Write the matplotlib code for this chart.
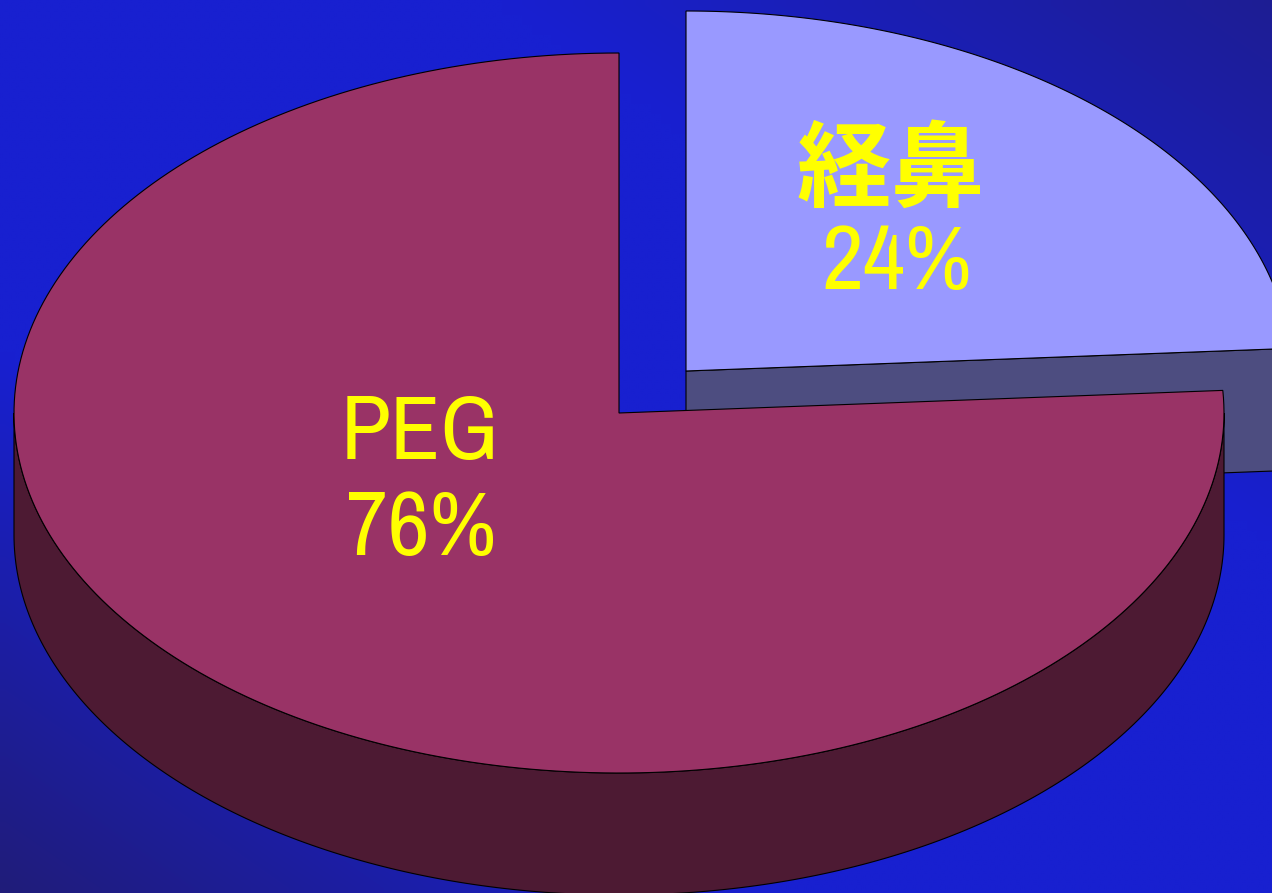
import numpy as np
import matplotlib
matplotlib.use("Agg")
import matplotlib.pyplot as plt
from matplotlib import font_manager as fm
from matplotlib.patches import Polygon

labels = ["経鼻", "PEG"]
shares = [24, 76]
top_colors = ["#9999FF", "#993366"]
side_colors = ["#4D4D80", "#4D1A33"]
centers = [(686, 371), (619, 413)]

W, H = 1272, 893
RX, RY, DEPTH = 605, 360, 122

fig = plt.figure(figsize=(W / 100, H / 100), dpi=100)
ax = fig.add_axes([0, 0, 1, 1])
ax.set_xlim(0, W)
ax.set_ylim(H, 0)
ax.axis("off")

# background: saturated blue centre, darker towards top-right and bottom-left corners
yy, xx = np.mgrid[0:1:90j, 0:1:128j]
t = xx - yy
dark = np.clip(np.abs(t) - 0.4, 0, 1) / 0.6
dark = np.where(t > 0, dark * 0.7, dark)
c0 = np.array([24, 32, 208]) / 255
c1 = np.array([32, 28, 122]) / 255
img = c0[None, None, :] * (1 - dark[..., None]) + c1[None, None, :] * dark[..., None]
ax.imshow(img, extent=[0, W, H, 0], aspect="auto", zorder=0, interpolation="bilinear")


def arc(cx, cy, a0, a1, n=240):
    a = np.radians(np.linspace(a0, a1, n))
    return np.column_stack([cx + RX * np.cos(a), cy - RY * np.sin(a)])


start0 = 90
end0 = start0 - 360 * shares[0] / 100
end1 = end0 - 360 * shares[1] / 100
kw = dict(edgecolor="black", linewidth=0.8)

cx, cy = centers[0]
edge = arc(cx, cy, end0, end0, 1)[0]
ax.add_patch(Polygon([(cx, cy), edge, edge + [0, DEPTH], (cx, cy + DEPTH)],
                     facecolor=side_colors[0], zorder=2, **kw))
p = arc(cx, cy, start0, end0)
ax.add_patch(Polygon(np.vstack([[(cx, cy)], p]), facecolor=top_colors[0], zorder=3, **kw))

cx, cy = centers[1]
front = arc(cx, cy, 180, 360)
ax.add_patch(Polygon(np.vstack([front, (front + [0, DEPTH])[::-1]]),
                     facecolor=side_colors[1], zorder=4, **kw))
p = arc(cx, cy, end0, end1)
ax.add_patch(Polygon(np.vstack([[(cx, cy)], p]), facecolor=top_colors[1], zorder=5, **kw))

names = sorted(fm.get_font_names())
narrow = [n for n in names if "narrow" in n.lower() or "condensed" in n.lower()]
latin = narrow[0] if narrow else "Liberation Mono"
size = 66 if narrow else 60
yellow = "#FFFF00"
ax.text(891, 172, labels[0], family=["Noto Sans CJK JP"], fontsize=68, fontweight="bold",
        color=yellow, ha="center", va="center", zorder=6)
ax.text(897, 264, f"{shares[0]}%", family=latin, fontsize=size, color=yellow,
        ha="center", va="center", zorder=6)
ax.text(420, 434, labels[1], family=latin, fontsize=size, color=yellow,
        ha="center", va="center", zorder=6)
ax.text(421, 530, f"{shares[1]}%", family=latin, fontsize=size, color=yellow,
        ha="center", va="center", zorder=6)

fig.savefig("out.png", dpi=100)
